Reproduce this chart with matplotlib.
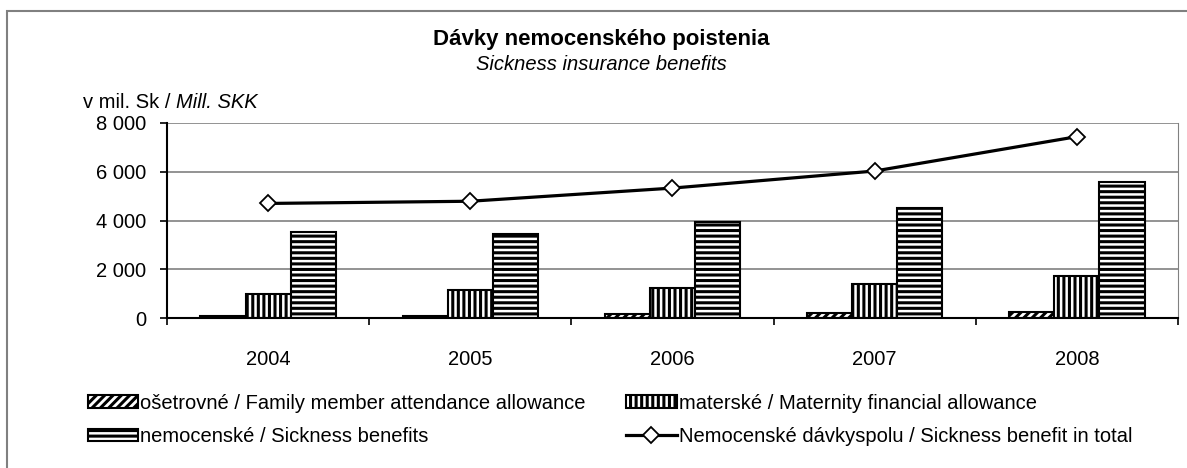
import matplotlib.pyplot as plt
from matplotlib.patches import Rectangle
from matplotlib.ticker import FuncFormatter
import numpy as np

years = ['2004', '2005', '2006', '2007', '2008']
osetrovne = [95, 100, 150, 190, 260]
materske = [1000, 1150, 1250, 1410, 1740]
nemocenske = [3520, 3440, 3930, 4500, 5580]
spolu = [4700, 4790, 5330, 6030, 7440]

plt.rcParams['font.family'] = ['Liberation Sans', 'DejaVu Sans']
plt.rcParams['hatch.linewidth'] = 2.2
plt.rcParams['hatch.color'] = 'black'

fs = 14.5
fig = plt.figure(figsize=(11.87, 4.68), dpi=100)
W, H = 1187.0, 468.0
ax = fig.add_axes([167 / W, 1 - 318 / H, (1178 - 167) / W, (318 - 123) / H])

x = np.arange(len(years))
w = 0.223
b1 = ax.bar(x - w, osetrovne, w, color='white', edgecolor='black', lw=1.5,
            hatch='////', label='ošetrovné / Family member attendance allowance')
b2 = ax.bar(x, materske, w, color='white', edgecolor='black', lw=1.5,
            hatch='|||', label='materské / Maternity financial allowance')
b3 = ax.bar(x + w, nemocenske, w, color='white', edgecolor='black', lw=1.5,
            hatch='---', label='nemocenské / Sickness benefits')
ln, = ax.plot(x, spolu, color='black', lw=2.3, marker='D', ms=8,
              mfc='white', mec='black', mew=1.3,
              label='Nemocenské dávkyspolu / Sickness benefit in total')

ax.set_xlim(-0.5, 4.5)
ax.set_ylim(0, 8000)
ax.set_yticks([0, 2000, 4000, 6000, 8000])
ax.yaxis.set_major_formatter(FuncFormatter(lambda v, p: '{:,.0f}'.format(v).replace(',', ' ')))
ax.set_xticks(x)
ax.set_xticklabels(years)
ax.set_xticks(np.arange(-0.5, 5, 1), minor=True)
ax.tick_params(axis='x', which='major', length=0, pad=23, labelsize=fs)
ax.tick_params(axis='x', which='minor', length=5, width=1.2, direction='out')
ax.tick_params(axis='y', length=5, width=1.2, pad=10, labelsize=fs)
ax.grid(axis='y', color='#808080', lw=1.2)
ax.set_axisbelow(True)
ax.spines['top'].set_visible(False)
ax.spines['right'].set_color('#808080')
ax.spines['left'].set_linewidth(1.5)
ax.spines['bottom'].set_linewidth(1.5)

# titles
fig.text(601 / W, 1 - 40 / H, 'Dávky nemocenského poistenia', ha='center', va='center',
         fontsize=16, fontweight='bold')
fig.text(601 / W, 1 - 64 / H, 'Sickness insurance benefits', ha='center', va='center',
         fontsize=fs, style='italic')

# unit label, italic part placed right after the regular part
t1 = fig.text(83 / W, 1 - 103 / H, 'v mil. Sk / ', ha='left', va='center', fontsize=fs)
fig.canvas.draw()
bb = t1.get_window_extent()
fig.text(bb.x1 / W, 1 - 103 / H, 'Mill. SKK', ha='left', va='center', fontsize=fs,
         style='italic')

fig.legend(handles=[b1, b3, b2, ln], loc='center left', ncol=2,
           bbox_to_anchor=(80 / W, 1 - 420 / H), frameon=False, fontsize=fs,
           handlelength=2.5, handleheight=0.6, handletextpad=0.1,
           columnspacing=2.0, labelspacing=0.7, borderaxespad=0)

# outer frame
fig.patches.append(Rectangle((7 / W, -0.1), 1.2, 1 - 11 / H + 0.1,
                             transform=fig.transFigure, fill=False,
                             edgecolor='#808080', lw=1.5))

fig.savefig('out.png', dpi=100)
